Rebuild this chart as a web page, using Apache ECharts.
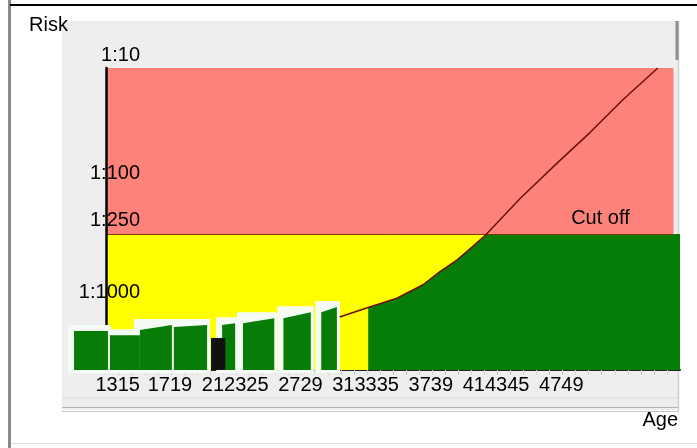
<!DOCTYPE html>
<html>
<head>
<meta charset="utf-8">
<script src="https://cdn.jsdelivr.net/npm/echarts@6/dist/echarts.min.js"></script>
<style>
html, body { margin: 0; padding: 0; background: #fff; }
#chart { width: 697px; height: 448px; }
</style>
</head>
<body>
<div id="chart"></div>
<script>
// axis ranges (age, risk 1:N)
const ageMin = 13;
const ageMax = 57;
const riskTop = 10;
const riskBottom = 3500;
const cutOff = 250;

// risk curve
const curveAge = [30.9, 33.1, 35.3, 37.3, 38.6, 39.9, 41.1, 42.1, 44.8, 47.6, 50.1, 52.6, 55.3];
const curveRisk = [1250, 1040, 870, 670, 520, 415, 320, 255, 124, 63, 35, 18.6, 10];

// green zone starts at this age
const greenFrom = 33.1;

// bars at the bottom left
const barFrom = [10.55, 13.3, 15.6, 18.2, 21.9, 23.5, 26.6, 29.5];
const barTo = [13.15, 15.6, 18.05, 20.75, 22.9, 25.9, 28.7, 30.7];
const barTopL = [1640, 1780, 1610, 1520, 1460, 1410, 1280, 1140];
const barTopR = [1640, 1780, 1460, 1460, 1410, 1280, 1140, 1030];
const blackFrom = [21.05];
const blackTo = [22.15];
const blackTop = [1880];

// tick labels
const yTicks = [10, 100, 250, 1000];
const xLabelAt = [13.9, 17.9, 22.9, 27.9, 32.9, 37.9, 42.9, 47.9];
const xLabels = ['1315', '1719', '212325', '2729', '313335', '3739', '414345', '4749'];
const xMinorTicks = [14, 15, 16, 17, 18, 19, 20, 21, 22, 23, 24, 25, 26, 27, 28, 29, 30, 31, 32, 33, 34, 35,
    36, 37, 38, 39, 40, 41, 42, 43, 44, 45, 46, 47, 48, 49, 50, 51, 52, 53, 54, 55, 56];

const font = 'Liberation Sans, Arial, sans-serif';

const curveData = curveAge.map((a, i) => [a, curveRisk[i]]);
const greenData = curveData
    .filter(p => p[0] >= greenFrom)
    .map(p => [p[0], Math.max(p[1], cutOff)]);
greenData.push([ageMax, cutOff]);

const barData = barFrom.map((f, i) => [f, barTo[i], barTopL[i], barTopR[i]]);
const blackData = blackFrom.map((f, i) => [f, blackTo[i], blackTop[i], blackTop[i]]);

function barShape(api) {
    const a = api.coord([api.value(0), api.value(2)]);
    const b = api.coord([api.value(1), api.value(3)]);
    const base = api.coord([api.value(1), riskBottom])[1];
    return { a, b, base };
}

function renderBox(params, api) {
    const s = barShape(api);
    const top = Math.min(s.a[1], s.b[1]) - 6;
    return {
        type: 'rect',
        shape: { x: s.a[0] - 6, y: top, width: s.b[0] - s.a[0] + 9, height: s.base - top + 3 },
        style: { fill: '#f4fbf4' }
    };
}

function renderBar(color) {
    return function (params, api) {
        const s = barShape(api);
        return {
            type: 'polygon',
            shape: { points: [[s.a[0], s.a[1]], [s.b[0], s.b[1]], [s.b[0], s.base], [s.a[0], s.base]] },
            style: { fill: color }
        };
    };
}

const chart = echarts.init(document.getElementById('chart'));

chart.setOption({
    animation: false,
    backgroundColor: '#fff',
    textStyle: { fontFamily: font },
    grid: { left: 106, top: 68, width: 574, height: 302, containLabel: false, outerBoundsMode: 'none' },
    xAxis: {
        type: 'value',
        min: ageMin,
        max: ageMax,
        name: 'Age',
        nameLocation: 'end',
        nameGap: -2,
        nameTextStyle: { fontSize: 20, color: '#000', fontFamily: font, align: 'right', verticalAlign: 'top', padding: [40, 0, 0, 0] },
        splitLine: { show: false },
        axisLine: { lineStyle: { color: '#222', width: 2 } },
        axisTick: { show: true, customValues: xMinorTicks, length: 5, lineStyle: { color: '#d6d6d6' } },
        axisLabel: {
            customValues: xLabelAt,
            formatter: (v, i) => {
                const k = xLabelAt.indexOf(v);
                return xLabels[k >= 0 ? k : i];
            },
            fontSize: 20,
            color: '#000',
            fontFamily: font,
            margin: 5
        }
    },
    yAxis: {
        type: 'log',
        logBase: 10,
        inverse: true,
        min: riskTop,
        max: riskBottom,
        z: 10,
        name: 'Risk',
        nameLocation: 'start',
        nameGap: 43,
        nameTextStyle: { fontSize: 20, color: '#000', fontFamily: font, align: 'right', verticalAlign: 'middle', padding: [0, 38, 0, 0] },
        splitLine: { show: false },
        axisLine: { lineStyle: { color: '#000', width: 2.5 } },
        axisTick: { show: false },
        axisLabel: {
            customValues: yTicks,
            formatter: v => '1:' + v,
            fontSize: 20,
            color: '#000',
            fontFamily: font,
            margin: -34,
            verticalAlign: 'bottom',
            padding: [0, 0, 3, 0]
        }
    },
    graphic: {
        elements: [
            { type: 'rect', z: -10, shape: { x: 62, y: 21, width: 617, height: 389 }, style: { fill: '#eeeeee' } },
            { type: 'line', z: -9, shape: { x1: 62, y1: 398, x2: 678, y2: 398 }, style: { stroke: '#dadada', lineWidth: 1 } },
            { type: 'line', z: -9, shape: { x1: 62, y1: 407.5, x2: 679, y2: 407.5 }, style: { stroke: '#b0b0b0', lineWidth: 1 } },
            { type: 'line', z: -9, shape: { x1: 62, y1: 411.5, x2: 679, y2: 411.5 }, style: { stroke: '#c4c4c4', lineWidth: 1 } },
            { type: 'line', z: -9, shape: { x1: 678.5, y1: 21, x2: 678.5, y2: 411 }, style: { stroke: '#cfcfcf', lineWidth: 1.5 } },
            { type: 'line', z: -9, shape: { x1: 677, y1: 21, x2: 677, y2: 60 }, style: { stroke: '#8e8e8e', lineWidth: 3 } },
            { type: 'line', z: -9, shape: { x1: 9.5, y1: 0, x2: 9.5, y2: 448 }, style: { stroke: '#8a8a8a', lineWidth: 3 } },
            { type: 'line', z: -9, shape: { x1: 10, y1: 5, x2: 697, y2: 5 }, style: { stroke: '#000', lineWidth: 2 } },
            { type: 'line', z: -9, shape: { x1: 11, y1: 443.5, x2: 697, y2: 443.5 }, style: { stroke: '#e2e2e2', lineWidth: 1 } }
        ]
    },
    series: [
        {
            name: 'zones',
            type: 'line',
            data: [],
            z: 1,
            markArea: {
                silent: true,
                data: [
                    [{ coord: [ageMin, riskTop], itemStyle: { color: '#fd837a' } }, { coord: [56.5, cutOff] }],
                    [{ coord: [ageMin, cutOff], itemStyle: { color: '#ffff00' } }, { coord: [56.5, riskBottom] }]
                ]
            },
            markLine: {
                silent: true,
                symbol: 'none',
                label: { show: false },
                lineStyle: { color: '#7a3c00', width: 1, type: 'solid' },
                data: [[{ coord: [ageMin, cutOff] }, { coord: [56.5, cutOff] }]]
            },
            markPoint: {
                silent: true,
                symbol: 'circle',
                symbolSize: 0,
                label: { show: true, position: 'top', distance: 5, formatter: 'Cut off', fontSize: 20, color: '#000', fontFamily: font },
                data: [{ coord: [50.9, cutOff] }]
            }
        },
        {
            name: 'green',
            type: 'line',
            data: greenData,
            z: 3,
            showSymbol: false,
            lineStyle: { width: 0 },
            areaStyle: { color: '#067d06', opacity: 1, origin: 'end' }
        },
        {
            name: 'boxes',
            type: 'custom',
            clip: false,
            z: 11,
            data: barData,
            renderItem: renderBox
        },
        {
            name: 'bars',
            type: 'custom',
            clip: false,
            z: 12,
            data: barData,
            renderItem: renderBar('#077d07')
        },
        {
            name: 'black',
            type: 'custom',
            clip: false,
            z: 13,
            data: blackData,
            renderItem: renderBar('#111111')
        },
        {
            name: 'risk',
            type: 'line',
            data: curveData,
            z: 14,
            showSymbol: false,
            lineStyle: { color: '#6e0f0f', width: 1.5 }
        }
    ]
});
</script>
</body>
</html>
